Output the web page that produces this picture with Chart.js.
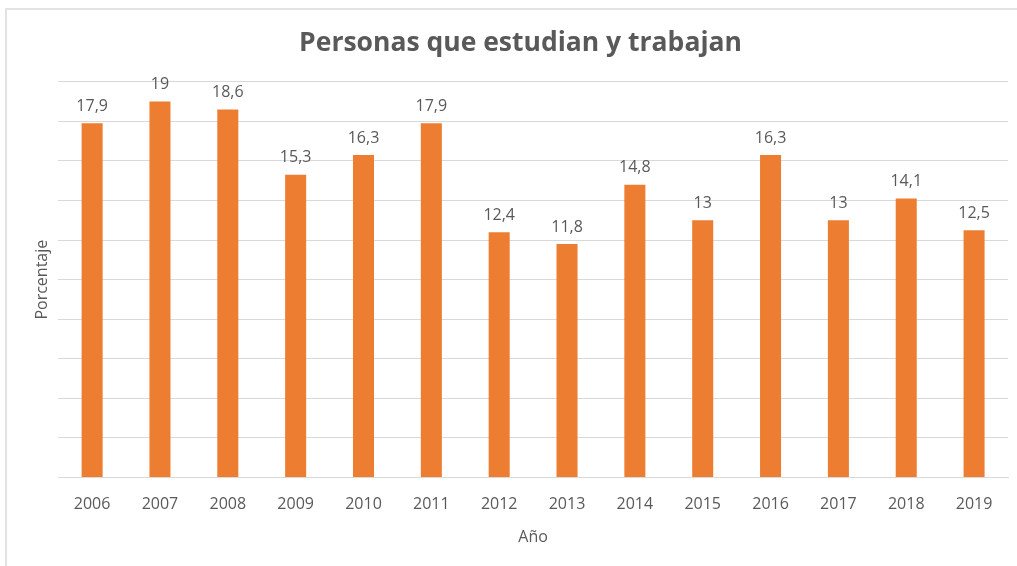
<!DOCTYPE html>
<html>
<head>
<meta charset="utf-8">
<script src="https://cdn.jsdelivr.net/npm/chart.js@4.4.1/dist/chart.umd.min.js"></script>
<style>
    html, body { margin: 0; padding: 0; background: #fff; }
    #wrap { position: relative; width: 1017px; height: 566px; overflow: hidden; }
    #frame { position: absolute; left: 5px; top: 8px; width: 1100px; height: 700px;
             border: 2px solid #e3e3e3; box-sizing: border-box; }
    canvas { position: absolute; left: 0; top: 0; }
</style>
</head>
<body>
<div id="wrap">
    <div id="frame"></div>
    <canvas id="chart" width="1017" height="566"></canvas>
</div>
<script>
    "use strict";
    // data
    const years = ['2006', '2007', '2008', '2009', '2010', '2011', '2012',
                   '2013', '2014', '2015', '2016', '2017', '2018', '2019'];
    const percentages = [17.9, 19, 18.6, 15.3, 16.3, 17.9, 12.4,
                         11.8, 14.8, 13, 16.3, 13, 14.1, 12.5];

    const TEXT_GREY = '#595959';
    const GRID_GREY = '#d9d9d9';
    const FONT = "'Open Sans', 'Noto Sans', sans-serif";

    // value labels above each bar (no datalabels plugin available offline)
    const barValueLabels = {
        id: 'barValueLabels',
        afterDatasetsDraw(chart) {
            const ctx = chart.ctx;
            const meta = chart.getDatasetMeta(0);
            ctx.save();
            ctx.font = '16px ' + FONT;
            ctx.fillStyle = TEXT_GREY;
            ctx.textAlign = 'center';
            ctx.textBaseline = 'bottom';
            meta.data.forEach((bar, i) => {
                const txt = String(percentages[i]).replace('.', ',');
                ctx.fillText(txt, bar.x, bar.y - 9);
            });
            ctx.restore();
        }
    };

    const ctx = document.getElementById('chart');
    new Chart(ctx, {
        type: 'bar',
        data: {
            labels: years,
            datasets: [{
                label: 'Porcentaje',
                data: percentages,
                backgroundColor: '#ED7D31',
                borderWidth: 0,
                barPercentage: 0.31,
                categoryPercentage: 1.0,
            }]
        },
        options: {
            responsive: false,
            animation: false,
            devicePixelRatio: 1,
            layout: {padding: {left: 33, right: 9, top: 0, bottom: 18.5}},
            plugins: {
                legend: {display: false},
                tooltip: {enabled: false},
                title: {
                    display: true,
                    text: 'Personas que estudian y trabajan',
                    color: TEXT_GREY,
                    font: {family: FONT, size: 26.5, weight: 'bold'},
                    padding: {top: 28, bottom: 22},
                },
            },
            scales: {
                x: {
                    grid: {display: false, drawTicks: false},
                    border: {display: true, color: GRID_GREY, width: 1},
                    ticks: {color: TEXT_GREY, font: {family: FONT, size: 16}, padding: 17},
                    title: {
                        display: true,
                        text: 'Año',
                        color: TEXT_GREY,
                        font: {family: FONT, size: 16, lineHeight: 0.8},
                        padding: {top: 0, bottom: 4},
                    },
                },
                y: {
                    min: 0,
                    max: 20,
                    ticks: {display: false, stepSize: 2},
                    grid: {color: GRID_GREY, drawTicks: false, lineWidth: 1},
                    border: {display: false},
                    title: {
                        display: true,
                        text: 'Porcentaje',
                        color: TEXT_GREY,
                        font: {family: FONT, size: 16},
                        padding: {top: 0, bottom: 6},
                    },
                },
            },
        },
        plugins: [barValueLabels],
    });
</script>
</body>
</html>
